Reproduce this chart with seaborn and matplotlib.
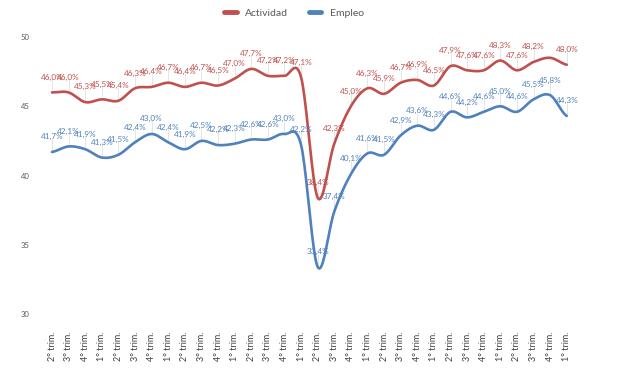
import numpy as np
import pandas as pd
import matplotlib
matplotlib.use("Agg")
import matplotlib.pyplot as plt
import seaborn as sns
from matplotlib.lines import Line2D

quarters = ["2° trim.", "3° trim.", "4° trim.", "1° trim.", "2° trim.", "3° trim.", "4° trim.", "1° trim.",
            "2° trim.", "3° trim.", "4° trim.", "1° trim.", "2° trim.", "3° trim.", "4° trim.", "1° trim.",
            "2° trim.", "3° trim.", "4° trim.", "1° trim.", "2° trim.", "3° trim.", "4° trim.", "1° trim.",
            "2° trim.", "3° trim.", "4° trim.", "1° trim.", "2° trim.", "3° trim.", "4° trim.", "1° trim."]
actividad = [46.0, 46.0, 45.3, 45.5, 45.4, 46.3, 46.4, 46.7, 46.4, 46.7, 46.5, 47.0, 47.7, 47.2, 47.2, 47.1,
             38.4, 42.3, 45.0, 46.3, 45.9, 46.7, 46.9, 46.5, 47.9, 47.6, 47.6, 48.3, 47.6, 48.2, 48.5, 48.0]
act_label_shown = [True] * 30 + [False, True]
empleo = [41.7, 42.1, 41.9, 41.3, 41.5, 42.4, 43.0, 42.4, 41.9, 42.5, 42.2, 42.3, 42.6, 42.6, 43.0, 42.2,
          33.4, 37.4, 40.1, 41.6, 41.5, 42.9, 43.6, 43.3, 44.6, 44.2, 44.6, 45.0, 44.6, 45.5, 45.8, 44.3]
yticks = [30, 35, 40, 45, 50]

RED = "#C0504D"
BLUE = "#4F81BD"
GREY = "#595959"

sns.set_style("white")
plt.rcParams["font.family"] = ["Lato", "DejaVu Sans"]


def smooth(y, n=20):
    """Catmull-Rom style smoothing (like a spreadsheet's smoothed line)."""
    y = np.asarray(y, float)
    x = np.arange(len(y), dtype=float)
    xs, ys = [], []
    for i in range(len(y) - 1):
        p0 = y[i - 1] if i > 0 else y[i]
        p1, p2 = y[i], y[i + 1]
        p3 = y[i + 2] if i + 2 < len(y) else y[i + 1]
        t = np.linspace(0, 1, n, endpoint=False)
        c1 = p1 + (p2 - p0) / 6
        c2 = p2 - (p3 - p1) / 6
        b = (1 - t) ** 3 * p1 + 3 * (1 - t) ** 2 * t * c1 + 3 * (1 - t) * t ** 2 * c2 + t ** 3 * p2
        xs.append(x[i] + t)
        ys.append(b)
    xs.append([x[-1]])
    ys.append([y[-1]])
    return np.concatenate(xs), np.concatenate(ys)


fig = plt.figure(figsize=(6.19, 3.78), dpi=100)
ax = fig.add_axes([0.0706, 0.1693, 0.8584, 0.7327])

frames = []
for name, vals in [("Actividad", actividad), ("Empleo", empleo)]:
    xs, ys = smooth(vals)
    frames.append(pd.DataFrame({"x": xs, "y": ys, "serie": name}))
df = pd.concat(frames, ignore_index=True)
sns.lineplot(data=df, x="x", y="y", hue="serie", palette={"Actividad": RED, "Empleo": BLUE},
             linewidth=1.9, ax=ax, legend=False, sort=False, estimator=None)

off = 1.1  # label offset in data units
for vals, col, shown in [(actividad, RED, act_label_shown), (empleo, BLUE, [True] * len(empleo))]:
    for i, v in enumerate(vals):
        if not shown[i]:
            continue
        ax.plot([i, i], [v + 0.15, v + off - 0.15], color="#e0e0e0", lw=0.6, zorder=1)
        ax.text(i, v + off, f"{v:.1f}%".replace(".", ","), color=col, fontsize=5.9,
                ha="center", va="center", zorder=3)

ax.set_xlim(-0.5, len(quarters) - 0.5)
ax.set_ylim(30, 50)
ax.set_xticks(range(len(quarters)))
ax.set_xticklabels(quarters, rotation=90, fontsize=6.5, color="#404040")
ax.set_yticks(yticks)
ax.set_yticklabels([str(t) for t in yticks], fontsize=5.5, color=GREY)
ax.tick_params(axis="y", length=7, width=0.9, color="#7f7f7f", pad=3)
ax.tick_params(axis="x", length=9, width=0.9, color="#404040", pad=4, direction="out")
for s in ax.spines.values():
    s.set_visible(False)
ax.set_xlabel("")
ax.set_ylabel("")
ax.grid(False)

handles = [Line2D([], [], color=RED, lw=3.5), Line2D([], [], color=BLUE, lw=3.5)]
fig.legend(handles, ["Actividad", "Empleo"], loc="center", bbox_to_anchor=(0.475, 0.965), ncol=2,
           frameon=False, fontsize=7.5, labelcolor=GREY, handlelength=1.2, columnspacing=2.0,
           handletextpad=0.8)

fig.savefig("out.png", dpi=100)
